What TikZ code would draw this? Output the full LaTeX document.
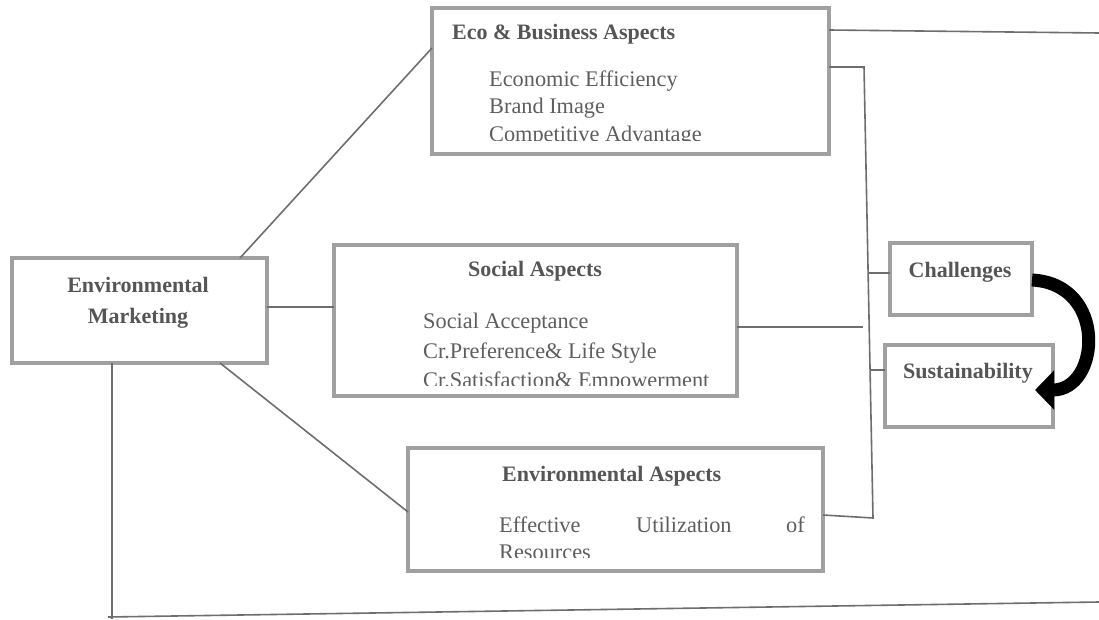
\documentclass[tikz,border=0pt]{standalone}
\usepackage{fontspec}
\setmainfont{Liberation Serif}
\usetikzlibrary{arrows.meta}
\definecolor{boxgray}{HTML}{A0A0A0}
\definecolor{linegray}{HTML}{6E6E6E}
\definecolor{titlegray}{HTML}{555555}
\definecolor{textgray}{HTML}{5E5E5E}
\begin{document}
\begin{tikzpicture}[x=1pt,y=-1pt,
  box/.style={draw=boxgray, line width=3.5pt, fill=white, inner sep=0pt, outer sep=0pt, anchor=north west},
  conn/.style={draw=linegray, line width=1.6pt},
  ttl/.style={inner sep=0pt, text=titlegray, font=\fontsize{22}{26}\selectfont\bfseries},
  itm/.style={inner sep=0pt, text=textgray, font=\fontsize{22.3}{26}\selectfont, anchor=base west},
  bigarrow/.style={draw=black, line width=13pt, -{Triangle[length=19pt,width=38pt]}}
]
\useasboundingbox (0,0) rectangle (1099,620);
\fill[white] (0,0) rectangle (1099,620);

% boxes
\node[box, minimum width=397pt, minimum height=146pt] (eco) at (432,8) {};
\node[box, minimum width=403pt, minimum height=151pt] (social) at (334,245) {};
\node[box, minimum width=415pt, minimum height=123pt] (env) at (408,448) {};
\node[box, minimum width=255pt, minimum height=105pt] (em) at (12,258) {};
\node[box, minimum width=142pt, minimum height=72pt] (chal) at (890,243) {};
\node[box, minimum width=168pt, minimum height=82pt] (sust) at (885,345) {};

% texts
\node[ttl, anchor=base west] (ecot) at (452,40) {Eco \& Business Aspects};
\node[itm] (eco1) at (489,87) {Economic Efficiency};
\node[itm] (eco2) at (489,114) {Brand Image};
\begin{scope}
  \clip (434,95) rectangle (827,141);
  \node[itm] (eco3) at (489,142) {Competitive Advantage};
\end{scope}

\node[ttl, anchor=base] (soct) at (535,276) {Social Aspects};
\node[itm] (soc1) at (423,328) {Social Acceptance};
\node[itm] (soc2) at (423,358) {Cr.Preference\& Life Style};
\begin{scope}
  \clip (336,360) rectangle (735,385);
  \node[itm] (soc3) at (423,387) {Cr.Satisfaction\& Empowerment};
\end{scope}

\node[ttl, anchor=base west] (envt) at (502,481) {Environmental Aspects};
\node[itm] (env1) at (499,532) {Effective};
\node[itm] (env2) at (636,532) {Utilization};
\node[itm, anchor=base east] (env3) at (805,532) {of};
\begin{scope}
  \clip (410,535) rectangle (821,557);
  \node[itm] (env4) at (499,559) {Resources};
\end{scope}

\node[ttl, anchor=base] (em1) at (138,292) {Environmental};
\node[ttl, anchor=base] (em2) at (138,323) {Marketing};
\node[ttl, anchor=base] (chalt) at (960,277) {Challenges};
\node[ttl, anchor=base] (sustt) at (968,378) {Sustainability};

% free-end coordinates
\coordinate (ecoR) at (1099,33);
\coordinate (vtop) at (864,67);
\coordinate (vbot) at (873,518);
\coordinate (socEnd) at (863,327);
\coordinate (vc) at (868,273);
\coordinate (vs) at (870,370);
\coordinate (emDown) at (112,619);
\coordinate (botL) at (108,617);
\coordinate (botR) at (1099,602);

% connectors
\draw[conn] (em.north -| 240,0) -- (eco.west |- 0,48);
\draw[conn] (em.east |- 0,307) -- (social.west |- 0,307);
\draw[conn] (em.south -| 220,0) -- (env.west |- 0,512);
\draw[conn] (em.south -| 112,0) -- (emDown);
\draw[conn] (botL) -- (botR);
\draw[conn] (eco.east |- 0,30) -- (ecoR);
\draw[conn] (eco.east |- 0,67) -- (vtop) -- (vbot) -- (env.east |- 0,515);
\draw[conn] (social.east |- 0,327) -- (socEnd);
\draw[conn] (vc) -- (chal.west |- 0,273);
\draw[conn] (vs) -- (sust.west |- 0,370);

% curved arrow
\draw[bigarrow] (chal.east |- 0,280) .. controls (1108,284) and (1100,390) .. (1035,390);
\end{tikzpicture}
\end{document}
